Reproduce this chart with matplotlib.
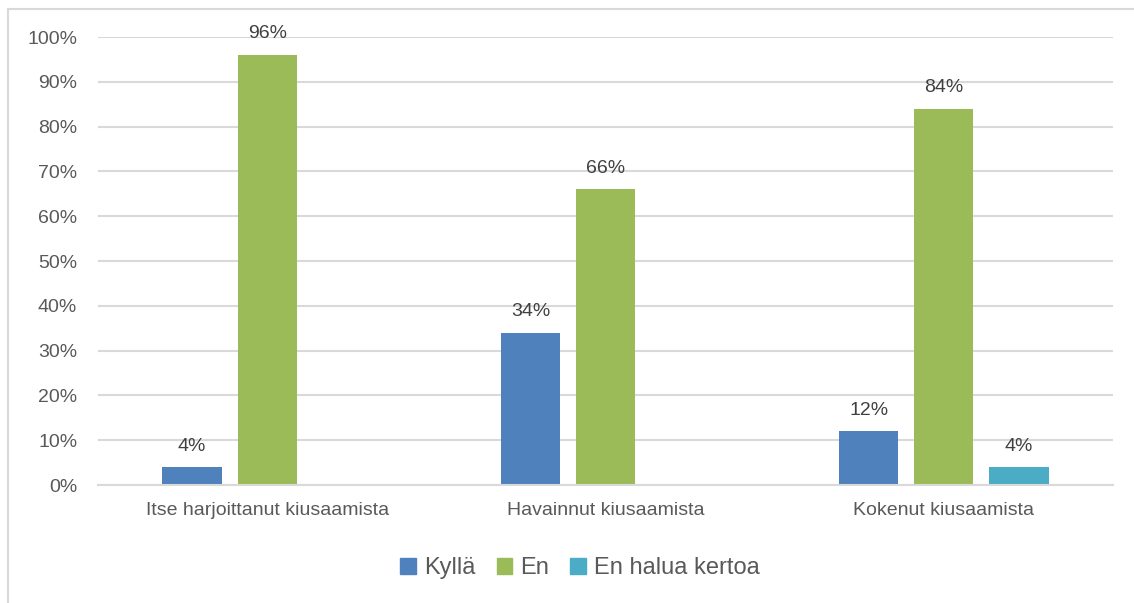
import matplotlib.pyplot as plt
import numpy as np
from matplotlib.patches import Rectangle

categories = ["Itse harjoittanut kiusaamista", "Havainnut kiusaamista", "Kokenut kiusaamista"]
series = ["Kyllä", "En", "En halua kertoa"]
kylla = [4, 34, 12]
en = [96, 66, 84]
ei_halua = [0, 0, 4]
values = [kylla, en, ei_halua]
colors = ["#4F81BD", "#9BBB59", "#4BACC6"]

plt.rcParams['font.family'] = ['Liberation Sans', 'DejaVu Sans']

fig = plt.figure(figsize=(11.34, 6.03), dpi=100)
W, H = 1134, 603
ax = fig.add_axes([98 / W, 1 - 485 / H, (1113 - 98) / W, (485 - 37) / H])

# light frame, cut off at the right and bottom edges
fig.patches.append(Rectangle((7.5 / W, -0.1), 1.1, 1.1 - 8.5 / H, transform=fig.transFigure,
                             fill=False, edgecolor="#D9D9D9", linewidth=1.5))

x = np.arange(len(categories))
width = 0.175
offsets = [-0.222, 0, 0.222]
for i, vals in enumerate(values):
    for j, v in enumerate(vals):
        if v == 0:
            continue
        xpos = x[j] + offsets[i]
        ax.bar(xpos, v, width, color=colors[i])
        ax.text(xpos, v + 2.8, f"{v}%", ha="center", va="bottom", fontsize=14, color="#404040")

ax.set_xlim(-0.5, 2.5)
ax.set_ylim(0, 100)
ax.set_yticks(np.arange(0, 101, 10))
ax.set_yticklabels([f"{t}%" for t in range(0, 101, 10)])
ax.set_xticks(x)
ax.set_xticklabels(categories)
ax.tick_params(axis="both", length=0, labelsize=14, labelcolor="#595959")
ax.tick_params(axis="y", pad=15)
ax.tick_params(axis="x", pad=12)
ax.grid(axis="y", color="#D9D9D9", linewidth=1.5)
ax.set_axisbelow(True)
for s in ["top", "right", "left"]:
    ax.spines[s].set_visible(False)
ax.spines["bottom"].set_color("#D9D9D9")
ax.spines["bottom"].set_linewidth(1.5)

handles = [Rectangle((0, 0), 1, 1, color=c) for c in colors]
fig.legend(handles, series, loc="center", bbox_to_anchor=(580 / W, 1 - 568 / H), ncol=3,
           frameon=False, fontsize=17, labelcolor="#595959", handlelength=0.65, handleheight=0.65,
           handletextpad=0.35, columnspacing=0.9)

fig.savefig("out.png", dpi=100)
